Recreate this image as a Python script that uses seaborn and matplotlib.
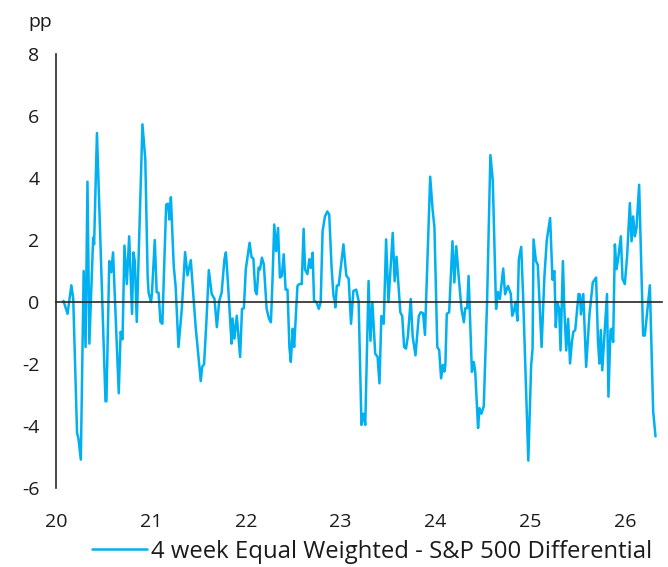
import numpy as np
import pandas as pd
import matplotlib
matplotlib.use('Agg')
import matplotlib.pyplot as plt
import seaborn as sns

years = [
    2020.077, 2020.12, 2020.16, 2020.18, 2020.22, 2020.235, 2020.26, 2020.29, 2020.31, 2020.33,
    2020.35, 2020.39, 2020.40, 2020.43, 2020.52, 2020.53, 2020.56, 2020.58, 2020.60, 2020.66,
    2020.68, 2020.70, 2020.72, 2020.745, 2020.77, 2020.80, 2020.815, 2020.83, 2020.85, 2020.91,
    2020.94, 2020.965, 2020.975, 2021.0, 2021.01, 2021.04, 2021.06, 2021.08, 2021.10, 2021.12,
    2021.16, 2021.18, 2021.195, 2021.21, 2021.24, 2021.26, 2021.29, 2021.325, 2021.36, 2021.385,
    2021.42, 2021.47, 2021.50, 2021.525, 2021.54, 2021.56, 2021.585, 2021.61, 2021.64, 2021.67,
    2021.695, 2021.72, 2021.745, 2021.775, 2021.79, 2021.81, 2021.85, 2021.86, 2021.88, 2021.905,
    2021.94, 2021.96, 2021.98, 2022.0, 2022.04, 2022.06, 2022.08, 2022.10, 2022.115, 2022.135,
    2022.15, 2022.17, 2022.19, 2022.22, 2022.245, 2022.265, 2022.28, 2022.30, 2022.32, 2022.34,
    2022.36, 2022.38, 2022.40, 2022.42, 2022.44, 2022.46, 2022.475, 2022.495, 2022.51, 2022.545,
    2022.565, 2022.59, 2022.61, 2022.625, 2022.65, 2022.67, 2022.685, 2022.705, 2022.72, 2022.745,
    2022.77, 2022.79, 2022.81, 2022.835, 2022.86, 2022.88, 2022.905, 2022.925, 2022.935, 2022.945,
    2022.96, 2022.98, 2023.03, 2023.06, 2023.085, 2023.11, 2023.135, 2023.165, 2023.19, 2023.22,
    2023.24, 2023.26, 2023.295, 2023.315, 2023.335, 2023.365, 2023.39, 2023.41, 2023.43, 2023.455,
    2023.48, 2023.505, 2023.55, 2023.57, 2023.59, 2023.63, 2023.65, 2023.67, 2023.69, 2023.71,
    2023.74, 2023.76, 2023.79, 2023.825, 2023.845, 2023.87, 2023.89, 2023.945, 2023.97, 2023.99,
    2024.02, 2024.04, 2024.06, 2024.08, 2024.095, 2024.105, 2024.12, 2024.145, 2024.18, 2024.20,
    2024.22, 2024.245, 2024.275, 2024.30, 2024.315, 2024.335, 2024.35, 2024.385, 2024.405, 2024.42,
    2024.45, 2024.465, 2024.485, 2024.51, 2024.545, 2024.58, 2024.605, 2024.64, 2024.66, 2024.68,
    2024.715, 2024.735, 2024.765, 2024.795, 2024.81, 2024.83, 2024.845, 2024.865, 2024.88, 2024.905,
    2024.925, 2024.98, 2025.01, 2025.025, 2025.035, 2025.06, 2025.08, 2025.12, 2025.15, 2025.175,
    2025.21, 2025.235, 2025.255, 2025.27, 2025.285, 2025.305, 2025.32, 2025.345, 2025.36, 2025.38,
    2025.40, 2025.42, 2025.44, 2025.455, 2025.475, 2025.51, 2025.525, 2025.535, 2025.56, 2025.59,
    2025.625, 2025.66, 2025.695, 2025.715, 2025.73, 2025.745, 2025.76, 2025.81, 2025.825, 2025.847,
    2025.858, 2025.875, 2025.893, 2025.910, 2025.927, 2025.956, 2025.974, 2025.998, 2026.022, 2026.051,
    2026.069, 2026.086, 2026.104, 2026.121, 2026.149, 2026.191, 2026.209, 2026.262, 2026.297, 2026.322,
]
diff_pp = [
    0.04, -0.38, 0.54, 0.1, -4.22, -4.4, -5.08, 1.0, -1.45, 3.88,
    -1.34, 2.08, 1.86, 5.45, -3.2, -3.2, 1.32, 0.96, 1.6, -2.94,
    -0.96, -1.2, 1.82, 0.58, 2.12, -0.38, 1.6, 1.3, -0.64, 5.73,
    4.6, 0.8, 0.3, 0.0, 0.27, 2.0, 0.32, 0.3, -0.64, -0.7,
    3.14, 3.17, 2.66, 3.38, 1.16, 0.5, -1.45, -0.22, 1.61, 0.86,
    1.35, -0.76, -1.72, -2.55, -2.09, -2.0, -0.6, 1.03, 0.26, 0.1,
    -0.81, 0.04, 0.3, 1.38, 1.6, 0.7, -1.34, -0.53, -1.18, -0.44,
    -1.77, -0.22, -0.2, 1.06, 1.91, 1.45, 1.4, 0.36, 0.25, 1.11,
    1.05, 1.43, 1.22, -0.22, -0.54, -0.65, 0.55, 2.5, 1.64, 2.39,
    0.79, 0.84, 1.54, 0.4, 0.4, -1.45, -1.93, -0.86, -1.45, 0.52,
    0.58, 0.58, 2.36, 1.05, 0.9, 1.38, 1.1, 1.59, 0.04, 0.0,
    -0.22, 0.0, 2.28, 2.76, 2.92, 2.82, 1.11, 0.2, 0.1, -0.17,
    0.53, 0.54, 1.86, 0.86, 0.75, -0.70, 0.36, 0.4, 0.04, -3.96,
    -3.6, -3.96, 0.68, -1.25, 0.0, -1.66, -1.77, -2.62, -0.45, -0.7,
    2.02, 0.0, 2.23, 0.67, 1.46, -0.33, -0.45, -1.45, -1.5, -1.1,
    0.1, -1.1, -1.72, -0.45, -0.33, -0.36, -1.06, 4.04, 3.0, 2.4,
    -1.45, -1.55, -2.46, -2.03, -2.24, -2.03, -0.38, -0.33, 1.96, 0.63,
    1.8, 0.84, -0.22, -0.65, -0.2, -0.2, 0.84, -2.25, -1.93, -2.24,
    -4.06, -3.42, -3.6, -3.36, 0.0, 4.74, 3.93, -0.22, 0.32, 0.1,
    1.08, 0.25, 0.52, 0.27, -0.44, -0.27, 0.0, -0.6, 1.38, 1.78,
    0.2, -5.11, -2.04, -1.5, 2.02, 1.33, 1.2, -1.45, 0.84, 2.0,
    2.71, 0.72, 1.0, -0.81, 0.0, -0.22, -1.56, 1.32, -0.22, -1.56,
    -0.54, -1.98, -1.27, -0.96, -0.9, 0.26, 0.24, -0.4, 0.26, -2.09,
    -0.4, 0.63, 0.79, -1.27, -1.98, -0.9, -2.2, 0.26, -3.05, -0.9,
    -0.86, -1.29, 1.86, 1.06, 1.38, 2.12, 0.74, 0.58, 1.48, 3.19,
    1.96, 2.76, 2.12, 2.38, 3.78, -1.08, -1.08, 0.54, -3.53, -4.33,
]
year_ticks = [2020, 2021, 2022, 2023, 2024, 2025, 2026]
year_labels = ['20', '21', '22', '23', '24', '25', '26']
y_ticks = [-6, -4, -2, 0, 2, 4, 6, 8]
series_name = '4 week Equal Weighted - S&P 500 Differential'

sns.set_theme(style='white')
plt.rcParams['font.family'] = ['Open Sans', 'DejaVu Sans']
plt.rcParams['axes.unicode_minus'] = False

df = pd.DataFrame({'year': years, 'diff': diff_pp})

fig = plt.figure(figsize=(6.68, 5.67), dpi=100)
ax = fig.add_axes([0.0841, 0.139, 0.9069, 0.766])

sns.lineplot(data=df, x='year', y='diff', ax=ax, color='#00B0F0',
             linewidth=1.8, label=series_name, legend=False)

ax.set_xlim(2020.0, 2026.39)
ax.set_ylim(-6, 8)
ax.set_xticks(year_ticks)
ax.set_xticklabels(year_labels)
ax.set_yticks(y_ticks)
ax.set_xlabel('')
ax.set_ylabel('')

# x axis drawn through zero, labels kept at the bottom
ax.spines['bottom'].set_position(('data', 0))
for s in ['top', 'right']:
    ax.spines[s].set_visible(False)
for s in ['left', 'bottom']:
    ax.spines[s].set_color('#262626')
    ax.spines[s].set_linewidth(1.2)

ax.tick_params(axis='x', direction='out', length=5, width=1.2, color='#262626',
               labelsize=14, labelcolor='#1a1a1a', pad=147)
ax.tick_params(axis='y', direction='out', length=5, width=1.2, color='#262626',
               labelsize=14, labelcolor='#1a1a1a', pad=7)

fig.text(0.042, 0.962, 'pp', fontsize=14, color='#1a1a1a', ha='left', va='center')

handles, labels = ax.get_legend_handles_labels()
fig.legend(handles, labels, loc='center', bbox_to_anchor=(0.557, 0.027),
           frameon=False, fontsize=17.2, handlelength=2.3, handletextpad=0.2,
           labelcolor='#1a1a1a')

fig.savefig('out.png', dpi=100)
